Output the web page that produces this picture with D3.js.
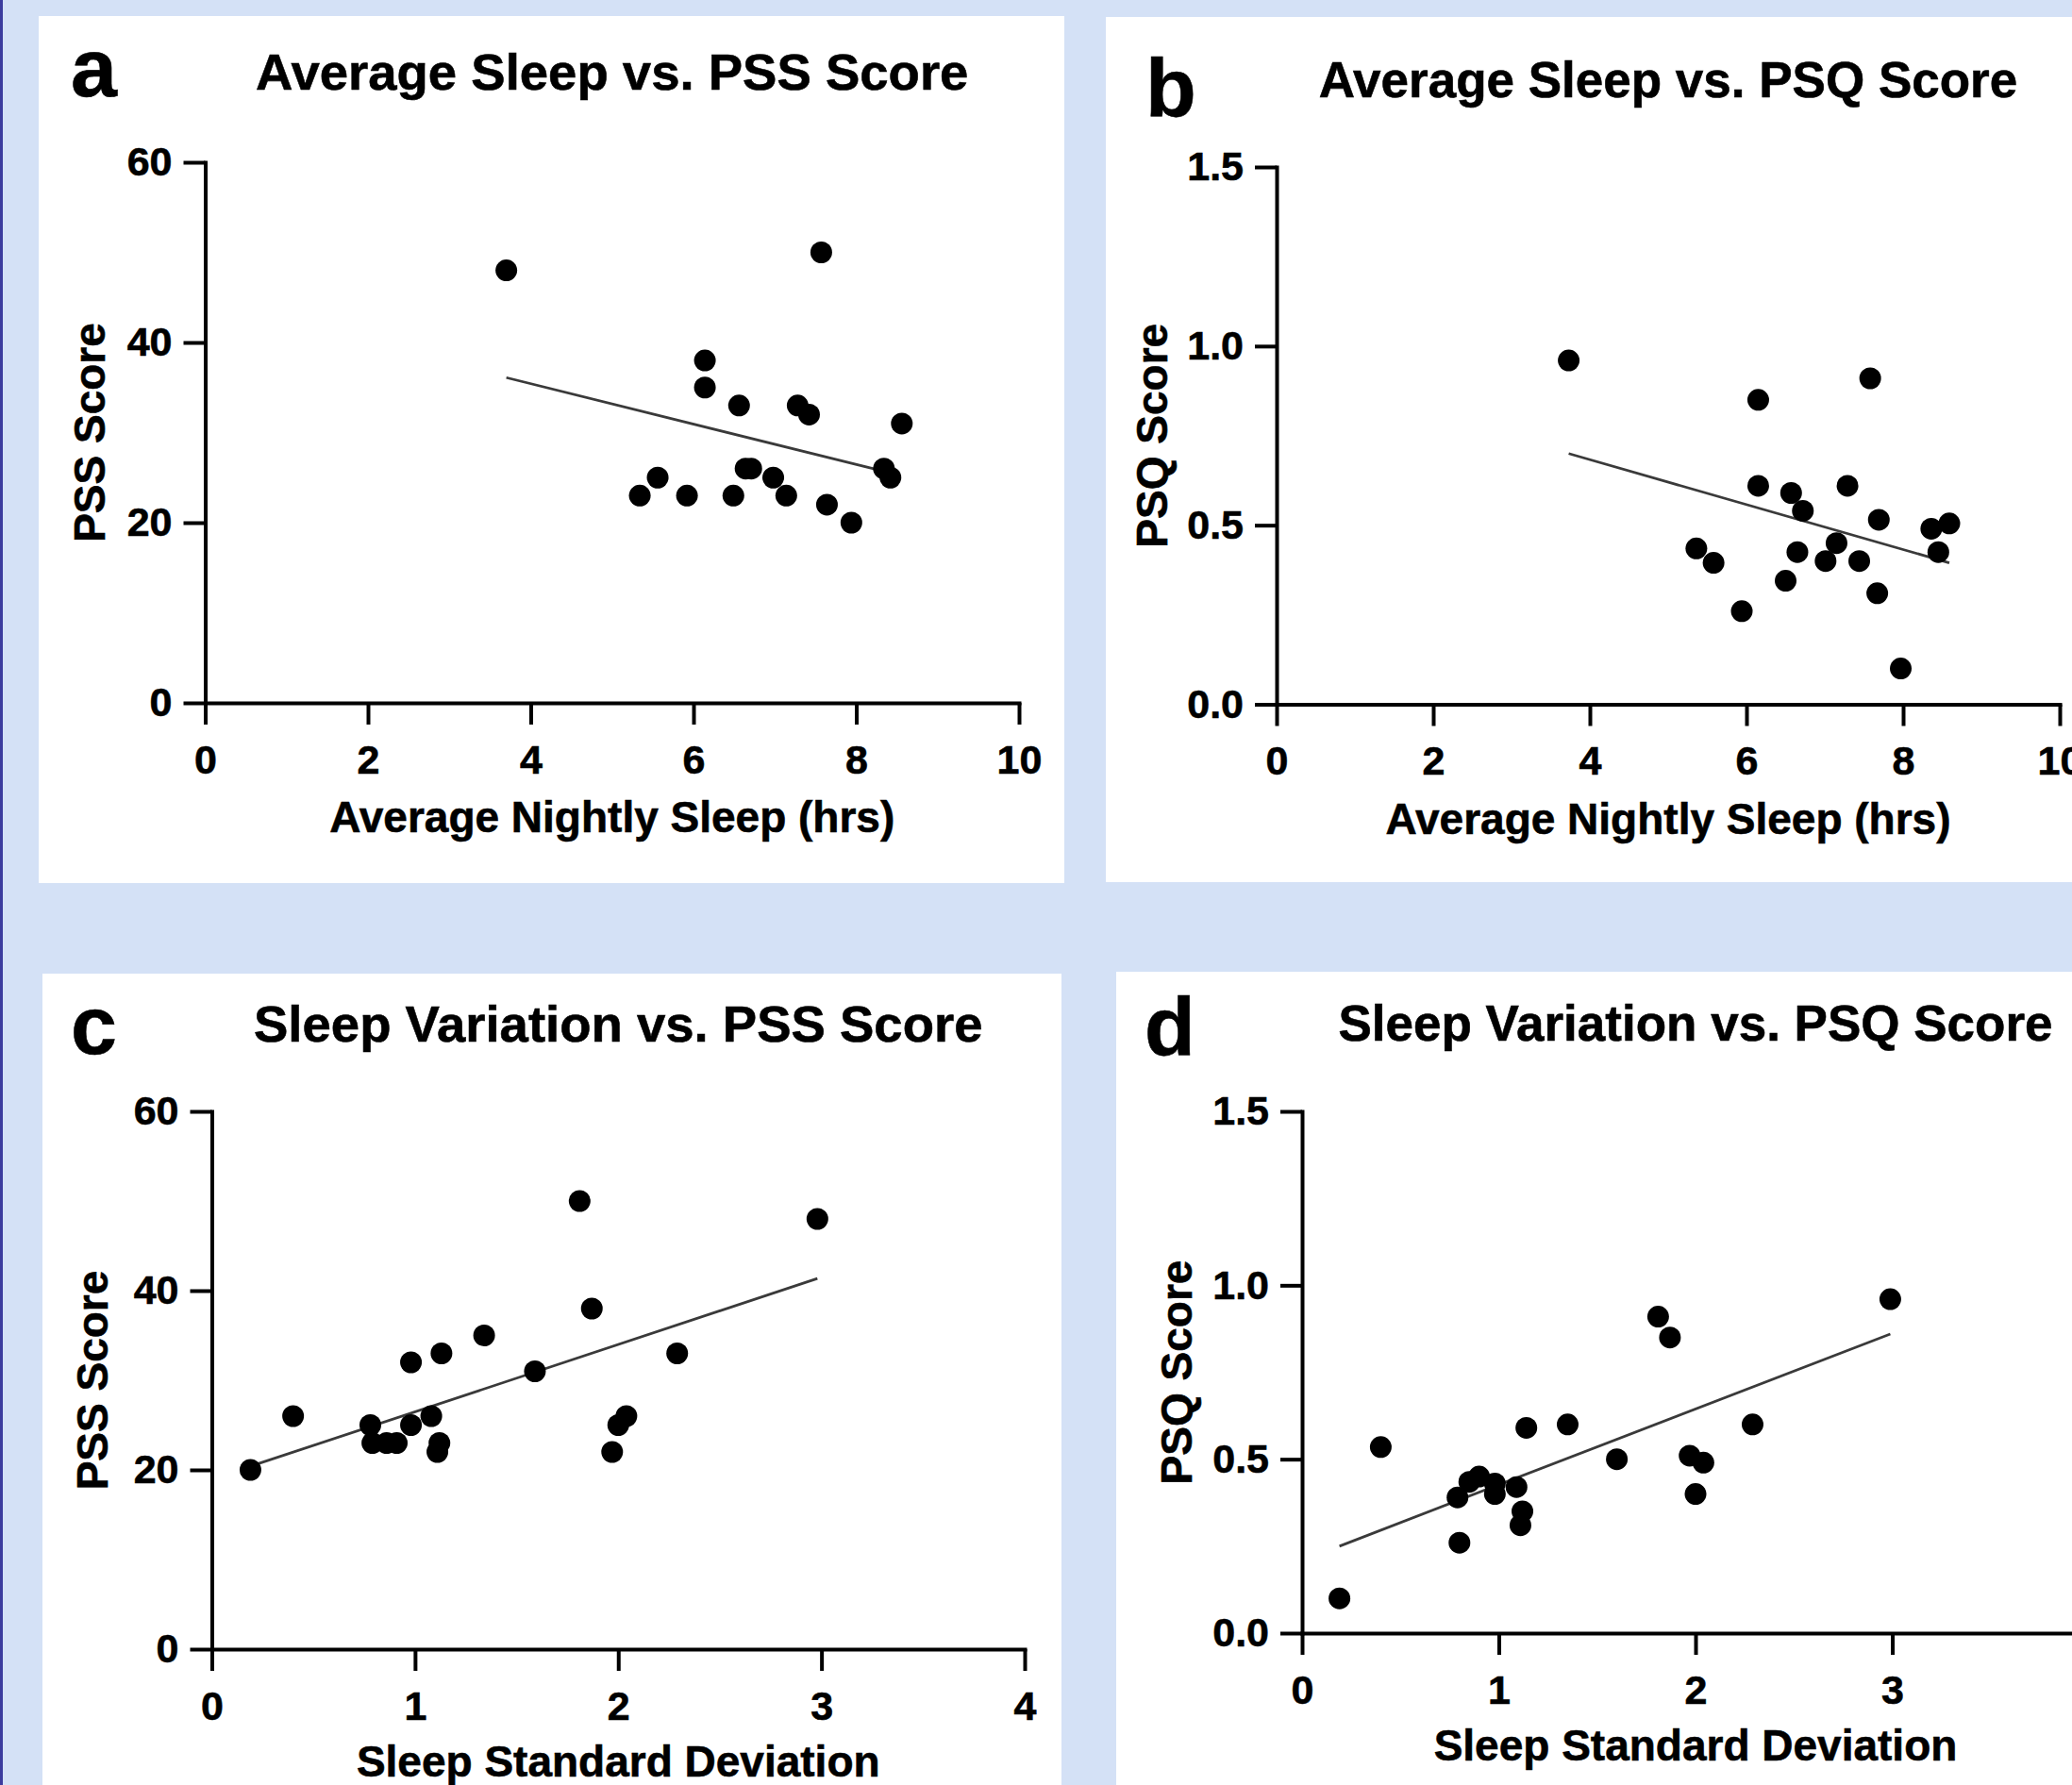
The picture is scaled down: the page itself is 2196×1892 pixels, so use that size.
<!DOCTYPE html>
<html>
<head>
<meta charset="utf-8">
<script src="https://cdn.jsdelivr.net/npm/d3@7"></script>
<style>
  body { margin: 0; background: #d4e1f6; }
  svg { display: block; }
  text { font-family: "Liberation Sans", Arial, Helvetica, sans-serif; font-weight: bold; fill: #000; stroke: #000; stroke-width: 0.6px; }
</style>
</head>
<body>
<svg id="chart" width="2196" height="1892"></svg>
<script>
// values
var avgSleepA = [3.70, 7.57, 6.14, 6.14, 6.56, 7.28, 7.42, 8.56, 5.34, 5.56, 5.92, 6.49, 6.64, 6.71, 6.98, 7.14, 7.64, 7.94, 8.34, 8.42]
var pssA      = [48, 50, 38, 35, 33, 33, 32, 31, 23, 25, 23, 23, 26, 26, 25, 23, 22, 20, 26, 25]

var avgSleepB = [3.73, 6.15, 7.58, 6.15, 6.57, 6.72, 7.29, 7.69, 5.36, 5.58, 6.65, 7.15, 7.01, 7.44, 6.50, 5.94, 7.67, 7.97, 8.36, 8.59, 8.45]
var psqB      = [0.96, 0.85, 0.91, 0.61, 0.59, 0.54, 0.61, 0.515, 0.435, 0.395, 0.425, 0.45, 0.40, 0.40, 0.345, 0.26, 0.31, 0.10, 0.49, 0.505, 0.425]

var sleepSdC  = [0.19, 0.40, 0.78, 0.79, 0.86, 0.91, 0.98, 0.98, 1.08, 1.12, 1.11, 1.13, 1.34, 1.59, 1.81, 1.87, 1.97, 2.00, 2.04, 2.29, 2.98]
var pssC      = [20, 26, 25, 23, 23, 23, 32, 25, 26, 23, 22, 33, 35, 31, 50, 38, 22, 25, 26, 33, 48]

var sleepSdD  = [0.19, 0.40, 0.79, 0.80, 0.85, 0.90, 0.98, 0.98, 1.09, 1.12, 1.11, 1.14, 1.35, 1.60, 1.81, 1.87, 1.97, 2.04, 2.00, 2.29, 2.99]
var psqD      = [0.10, 0.535, 0.39, 0.26, 0.435, 0.45, 0.43, 0.40, 0.42, 0.35, 0.31, 0.59, 0.60, 0.50, 0.91, 0.85, 0.51, 0.49, 0.40, 0.60, 0.96]

// fitted line end points (x, y)
var fitA = [[3.70, 36.1], [8.25, 25.9]]
var fitB = [[3.73, 0.70], [8.59, 0.395]]
var fitC = [[0.19, 20.4], [2.98, 41.35]]
var fitD = [[0.19, 0.25], [2.99, 0.86]]

var sleepTicks = [0, 2, 4, 6, 8, 10]
var sdTicks    = [0, 1, 2, 3, 4]
var sdTicksD   = [0, 1, 2, 3]      // the 4 sits past the right edge of the figure
var pssTicks   = [0, 20, 40, 60]
var psqTicks   = [0, 0.5, 1.0, 1.5]

var panels = [
  { letter: "a", title: "Average Sleep vs. PSS Score", xLabel: "Average Nightly Sleep (hrs)", yLabel: "PSS Score",
    xs: avgSleepA, ys: pssA, fit: fitA, xTicks: sleepTicks, yTicks: pssTicks, xDom: [0, 10], yDom: [0, 60], yFmt: d3.format("d"),
    box: [41, 17, 1087, 919], xr: [217.5, 1080], yr: [745, 172], letterPos: [75, 102], titleY: 95, titleSize: 54.5, xLabelY: 882, yLabelX: 111 },
  { letter: "b", title: "Average Sleep vs. PSQ Score", xLabel: "Average Nightly Sleep (hrs)", yLabel: "PSQ Score",
    xs: avgSleepB, ys: psqB, fit: fitB, xTicks: sleepTicks, yTicks: psqTicks, xDom: [0, 10], yDom: [0, 1.5], yFmt: d3.format(".1f"),
    box: [1172, 18, 1024, 917], xr: [1353, 2183], yr: [746.5, 177], letterPos: [1214, 123], titleY: 103, titleSize: 53, xLabelY: 884, yLabelX: 1237 },
  { letter: "c", title: "Sleep Variation vs. PSS Score", xLabel: "Sleep Standard Deviation", yLabel: "PSS Score",
    xs: sleepSdC, ys: pssC, fit: fitC, xTicks: sdTicks, yTicks: pssTicks, xDom: [0, 4], yDom: [0, 60], yFmt: d3.format("d"),
    box: [45, 1032, 1080, 860], xr: [224.5, 1086], yr: [1748, 1178], letterPos: [75, 1117], titleY: 1104, titleSize: 54.5, xLabelY: 1883, yLabelX: 114 },
  { letter: "d", title: "Sleep Variation vs. PSQ Score", xLabel: "Sleep Standard Deviation", yLabel: "PSQ Score",
    xs: sleepSdD, ys: psqD, fit: fitD, xTicks: sdTicksD, yTicks: psqTicks, xDom: [0, 4], yDom: [0, 1.5], yFmt: d3.format(".1f"),
    box: [1183, 1030, 1013, 862], xr: [1380, 2214], yr: [1731, 1178], letterPos: [1213, 1118], titleY: 1103, titleSize: 53, xLabelY: 1866, yLabelX: 1263 }
]

var svg = d3.select("#chart")

// thin dark strip on the left edge
svg.append("rect").attr("x", 0).attr("y", 0).attr("width", 3).attr("height", 1892).attr("fill", "#3c3c9e")

panels.forEach(function(p) {
  var x = d3.scaleLinear().domain(p.xDom).range(p.xr)
  var y = d3.scaleLinear().domain(p.yDom).range(p.yr)
  var g = svg.append("g")

  g.append("rect")
    .attr("x", p.box[0]).attr("y", p.box[1])
    .attr("width", p.box[2]).attr("height", p.box[3])
    .attr("fill", "#fff")

  g.append("text")
    .attr("x", p.letterPos[0]).attr("y", p.letterPos[1])
    .style("font-size", "88px")
    .text(p.letter)

  var cx = (p.xr[0] + p.xr[1]) / 2
  var cy = (p.yr[0] + p.yr[1]) / 2

  g.append("text")
    .attr("x", cx).attr("y", p.titleY)
    .attr("text-anchor", "middle")
    .style("font-size", p.titleSize + "px")
    .text(p.title)

  var xAxis = g.append("g")
    .attr("transform", "translate(0," + p.yr[0] + ")")
    .call(d3.axisBottom(x).tickValues(p.xTicks).tickFormat(d3.format("d"))
      .tickSize(23).tickPadding(21).tickSizeOuter(0))

  var yAxis = g.append("g")
    .attr("transform", "translate(" + p.xr[0] + ",0)")
    .call(d3.axisLeft(y).tickValues(p.yTicks).tickFormat(p.yFmt)
      .tickSize(23).tickPadding(12).tickSizeOuter(0))

  ;[xAxis, yAxis].forEach(function(a) {
    a.attr("font-size", 43).attr("font-family", null)
    a.selectAll("path, line").attr("stroke", "#000").attr("stroke-width", 4)
    a.select(".domain").attr("stroke-linecap", "square")
  })

  g.append("text")
    .attr("x", cx).attr("y", p.xLabelY)
    .attr("text-anchor", "middle")
    .style("font-size", "46px")
    .text(p.xLabel)

  g.append("text")
    .attr("transform", "translate(" + p.yLabelX + "," + cy + ") rotate(-90)")
    .attr("text-anchor", "middle")
    .style("font-size", "46px")
    .text(p.yLabel)

  g.append("path")
    .datum(p.fit)
    .attr("fill", "none")
    .attr("stroke", "#3a3a3a")
    .attr("stroke-width", 2.8)
    .attr("d", d3.line().x(function(d) { return x(d[0]) }).y(function(d) { return y(d[1]) }))

  g.selectAll(".dot")
      .data(d3.zip(p.xs, p.ys))
    .enter().append("circle")
      .attr("class", "dot")
      .attr("r", 11.5)
      .attr("cx", function(d) { return x(d[0]) })
      .attr("cy", function(d) { return y(d[1]) })
      .attr("fill", "#000")
})
</script>
</body>
</html>
